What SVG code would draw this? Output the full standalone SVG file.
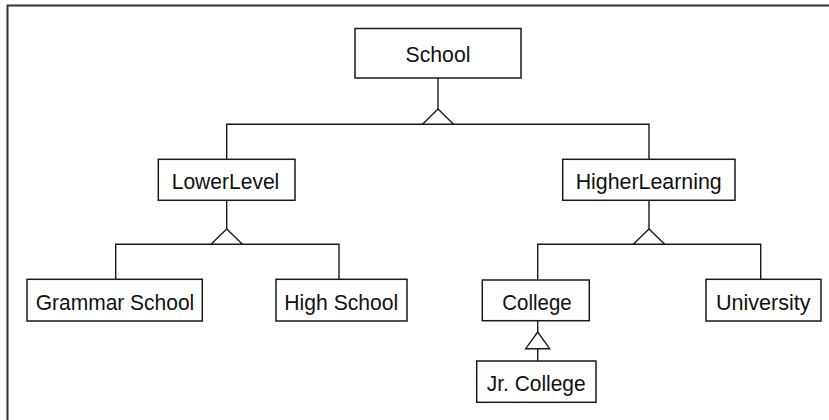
<svg xmlns="http://www.w3.org/2000/svg" width="829" height="420" viewBox="0 0 829 420">
<style>
.box{fill:#fff;stroke:#1a1a1a;stroke-width:1.5}
.lbl{font-family:"Liberation Sans",Arial,sans-serif;font-size:22px;fill:#111;text-anchor:middle}
.ln{fill:none;stroke:#1a1a1a;stroke-width:1.4}
.tri{fill:#fff;stroke:#1a1a1a;stroke-width:1.4}
</style>
<rect width="829" height="420" fill="#fff"/>
<path d="M7.5 420 V5.5 H829" fill="none" stroke="#333" stroke-width="2"/>
<g id="connectors">
<path class="ln" d="M438 78 V109"/>
<path class="ln" d="M226.7 159 V124.3 H649 V159"/>
<polygon class="tri" points="438,109 422.5,124.3 453.5,124.3"/>
<path class="ln" d="M226.7 200 V229"/>
<path class="ln" d="M115.7 279 V244.3 H339 V279"/>
<polygon class="tri" points="226.7,229 211,244.3 242.5,244.3"/>
<path class="ln" d="M649 200 V229"/>
<path class="ln" d="M537.7 280 V244.3 H760.7 V279"/>
<polygon class="tri" points="649,229 633.3,244.3 664.7,244.3"/>
<path class="ln" d="M537.7 320.7 V332 M537.7 348.7 V361"/>
<polygon class="tri" points="537.7,332 525.7,348.7 549.7,348.7"/>
</g>
<g id="school"><rect class="box" x="355" y="28.5" width="166" height="49.5"/><text class="lbl" x="438" y="62" textLength="65" lengthAdjust="spacingAndGlyphs">School</text></g>
<g id="lowerlevel"><rect class="box" x="158.3" y="159.3" width="136.7" height="41"/><text class="lbl" x="225.5" y="188.8" textLength="107.6" lengthAdjust="spacingAndGlyphs">LowerLevel</text></g>
<g id="higherlearning"><rect class="box" x="562.7" y="159.3" width="172.3" height="41"/><text class="lbl" x="648.7" y="188.8" textLength="146" lengthAdjust="spacingAndGlyphs">HigherLearning</text></g>
<g id="grammarschool"><rect class="box" x="27" y="279.3" width="175.3" height="41.7"/><text class="lbl" x="115" y="309.5" textLength="158.6" lengthAdjust="spacingAndGlyphs">Grammar School</text></g>
<g id="highschool"><rect class="box" x="276" y="279.3" width="131" height="41.7"/><text class="lbl" x="341.3" y="309.5" textLength="114" lengthAdjust="spacingAndGlyphs">High School</text></g>
<g id="college"><rect class="box" x="482.3" y="280" width="107" height="40.7"/><text class="lbl" x="537" y="309.5" textLength="69.3" lengthAdjust="spacingAndGlyphs">College</text></g>
<g id="university"><rect class="box" x="706" y="279.3" width="115" height="41.7"/><text class="lbl" x="763.3" y="309.5" textLength="94.7" lengthAdjust="spacingAndGlyphs">University</text></g>
<g id="jrcollege"><rect class="box" x="476.7" y="361" width="119.3" height="41.3"/><text class="lbl" x="536.2" y="390.5" textLength="99" lengthAdjust="spacingAndGlyphs">Jr. College</text></g>
</svg>
